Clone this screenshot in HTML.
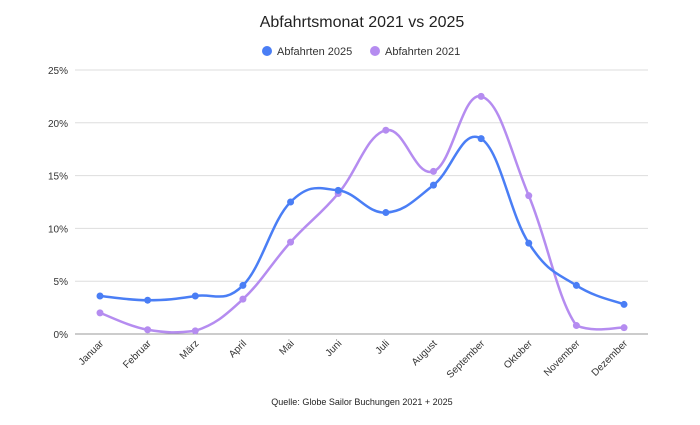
<!DOCTYPE html>
<html><head><meta charset="utf-8"><style>
body{margin:0;background:#fff;font-family:"Liberation Sans",sans-serif}
</style></head><body>
<svg id="s" width="700" height="420" xmlns="http://www.w3.org/2000/svg" font-family="Liberation Sans, sans-serif">
<text x="362" y="27" text-anchor="middle" font-size="16" fill="#222">Abfahrtsmonat 2021 vs 2025</text>
<circle cx="267" cy="51" r="5" fill="#4a7ef5"/><text x="277" y="55" font-size="11" fill="#333">Abfahrten 2025</text>
<circle cx="375" cy="51" r="5" fill="#b58cf0"/><text x="385" y="55" font-size="11" fill="#333">Abfahrten 2021</text>
<g id="grid" font-size="10" fill="#333"></g>
<text x="362" y="405" text-anchor="middle" font-size="9" fill="#222">Quelle: Globe Sailor Buchungen 2021 + 2025</text>
</svg>
<script>
const s=document.getElementById('s'),g=document.getElementById('grid'),NS='http://www.w3.org/2000/svg';
function el(t,a,p){const e=document.createElementNS(NS,t);for(const k in a)e.setAttribute(k,a[k]);(p||s).appendChild(e);return e;}
const y0=334,py=52.8/5,x0=100,dx=47.64;
for(let i=0;i<=5;i++){const y=y0-i*5*py;el('line',{x1:75,x2:648,y1:y,y2:y,stroke:i?'#ddd':'#999','stroke-width':1},g);
const t=el('text',{x:68,y:y+4,'text-anchor':'end'},g);t.textContent=(i*5)+'%';}
const m=['Januar','Februar','März','April','Mai','Juni','Juli','August','September','Oktober','November','Dezember'];
m.forEach((n,i)=>{const x=x0+i*dx;const t=el('text',{x:x+4,y:344,'text-anchor':'end',transform:`rotate(-45 ${x+4} 344)`},g);t.textContent=n;});
function series(d,c){const p=d.map((v,i)=>[x0+i*dx,y0-v*py]);let path=`M${p[0]}`;const cl=v=>Math.min(v,y0-1);
for(let i=0;i<p.length-1;i++){const a=p[Math.max(0,i-1)],b=p[i],c2=p[i+1],e=p[Math.min(p.length-1,i+2)];
const k=0.2;path+=` C${b[0]+(c2[0]-a[0])*k},${cl(b[1]+(c2[1]-a[1])*k)} ${c2[0]-(e[0]-b[0])*k},${cl(c2[1]-(e[1]-b[1])*k)} ${c2[0]},${c2[1]}`;}
el('path',{d:path,fill:'none',stroke:c,'stroke-width':2.5});p.forEach(q=>el('circle',{cx:q[0],cy:q[1],r:3.5,fill:c}));}
series([2.0,0.4,0.3,3.3,8.7,13.3,19.3,15.4,22.5,13.1,0.8,0.6],'#b58cf0');
series([3.6,3.2,3.6,4.6,12.5,13.6,11.5,14.1,18.5,8.6,4.6,2.8],'#4a7ef5');
</script>
</body></html>
